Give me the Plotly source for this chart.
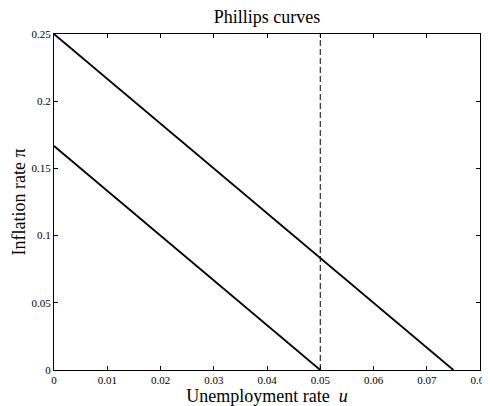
import plotly.graph_objects as go

# Phillips curve data: unemployment rate vs inflation rate
u_high = [0.0, 0.075]
pi_high = [0.25, 0.0]
u_low = [0.0, 0.05]
pi_low = [0.1667, 0.0]
u_natural = [0.05, 0.05]
pi_natural = [0.0, 0.25]

x_ticks = [0, 0.01, 0.02, 0.03, 0.04, 0.05, 0.06, 0.07, 0.08]
y_ticks = [0, 0.05, 0.1, 0.15, 0.2, 0.25]

serif = "Palatino Linotype, Liberation Serif, DejaVu Serif, serif"

fig = go.Figure()
fig.add_trace(go.Scatter(x=u_high, y=pi_high, mode="lines",
                         line=dict(color="black", width=1.8), showlegend=False))
fig.add_trace(go.Scatter(x=u_low, y=pi_low, mode="lines",
                         line=dict(color="black", width=1.8), showlegend=False))
fig.add_trace(go.Scatter(x=u_natural, y=pi_natural, mode="lines",
                         line=dict(color="black", width=1, dash="6px,3px"), showlegend=False))

axis_style = dict(
    showgrid=False, zeroline=False, automargin=False,
    showline=True, linecolor="black", linewidth=1, mirror="ticks",
    ticks="inside", ticklen=4, tickcolor="black", tickwidth=1,
    ticklabeloverflow="allow",
    tickfont=dict(family=serif, size=11, color="black"),
)

# page body adds an 8px offset, margins are set with that in mind
fig.update_layout(
    width=490, height=398,
    paper_bgcolor="white", plot_bgcolor="white",
    margin=dict(l=46, r=18, t=26, b=36),
    title=dict(text="Phillips curves", xref="paper", x=0.5, xanchor="center",
               y=0.977, yanchor="middle",
               font=dict(family=serif, size=18, color="black")),
    xaxis=dict(range=[0, 0.08], tickvals=x_ticks,
               title=dict(text="Unemployment rate  <i>u</i>", standoff=2,
                          font=dict(family=serif, size=18, color="black")),
               **axis_style),
    yaxis=dict(range=[0, 0.25], tickvals=y_ticks,
               title=dict(text="Inflation rate π", standoff=1,
                          font=dict(family=serif, size=18, color="black")),
               **axis_style),
)

fig.write_html("out.html")
